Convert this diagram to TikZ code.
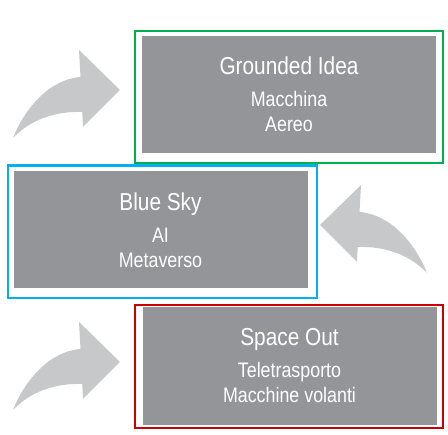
\documentclass[tikz,border=0pt]{standalone}
\usepackage{fontspec}
\setmainfont[FakeStretch=0.85]{Liberation Sans}
\definecolor{boxgray}{HTML}{939598}
\definecolor{arrowgray}{HTML}{C7C8CA}
\definecolor{framegreen}{HTML}{00B050}
\definecolor{frameblue}{HTML}{00B0F0}
\definecolor{framered}{HTML}{CC0000}
\tikzset{
  ideabox/.style={fill=boxgray, text=white, align=center, inner sep=0pt,
    minimum width=294pt, minimum height=117pt, font=\fontsize{21}{25}\selectfont},
  ideaframe/.style={line width=2.6pt, line join=miter},
  bendarrow/.pic={
    \fill[arrowgray] (-107,-48) .. controls (-98,-25) and (-75,10) .. (-39.5,13)
      -- (-41,40) -- (0,0) -- (-37,-37) -- (-37.7,-22)
      .. controls (-65,-21) and (-90,-30) .. (-107,-48) -- cycle;
  },
}
\newcommand{\ideatitle}[1]{{\fontsize{24.5}{25}\selectfont #1}\\[7pt]}

\begin{document}
\begin{tikzpicture}[x=1pt, y=1pt]
\useasboundingbox (0,0) rectangle (448,435);
\pic at (120,345) {bendarrow};
\pic[xscale=-1] at (320,210) {bendarrow};
\pic at (120,73) {bendarrow};
\node[ideabox] (grounded) at (289,340.5) {\ideatitle{Grounded Idea}Macchina\\Aereo};
\node[ideabox] (bluesky) at (160.5,205) {\ideatitle{Blue Sky}AI\\Metaverso};
\node[ideabox, minimum height=118pt] (spaceout) at (289.5,69) {\ideatitle{Space Out}Teletrasporto\\Macchine volanti};
\draw[ideaframe, framegreen] (135,404) rectangle (443,272);
\draw[ideaframe, frameblue] (8,269.5) rectangle (317,137);
\draw[ideaframe, framered] (135,130) rectangle (443,7);
\end{tikzpicture}
\end{document}
